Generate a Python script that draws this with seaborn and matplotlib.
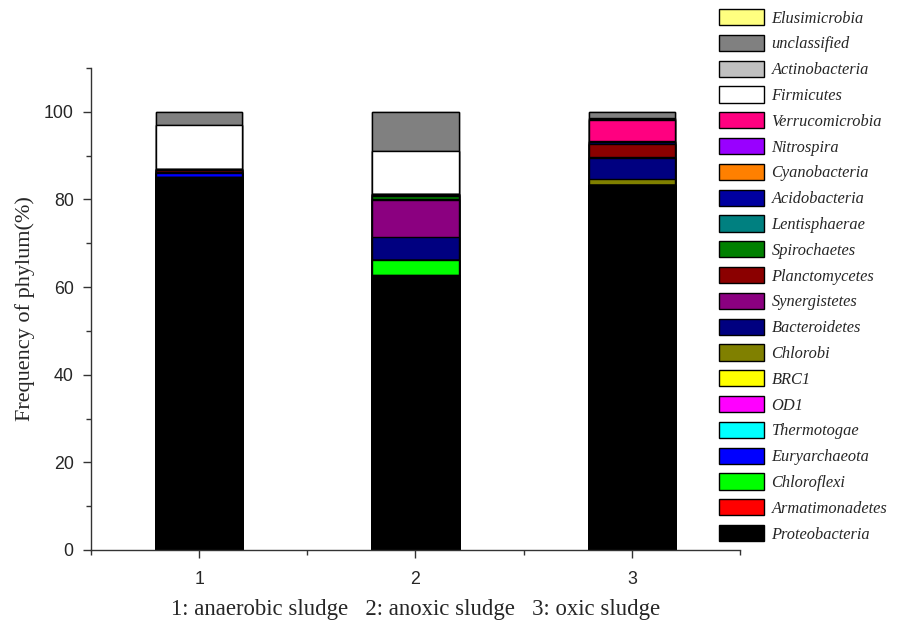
import numpy as np
import pandas as pd
import matplotlib
matplotlib.use("Agg")
import matplotlib.pyplot as plt
from matplotlib.patches import Patch
from matplotlib.ticker import FixedLocator
import seaborn as sns

# ---- data (percent) ----
samples = ["1", "2", "3"]
# legend order, top to bottom (stack order is the reverse)
phyla = ["Elusimicrobia", "unclassified", "Actinobacteria", "Firmicutes",
         "Verrucomicrobia", "Nitrospira", "Cyanobacteria", "Acidobacteria",
         "Lentisphaerae", "Spirochaetes", "Planctomycetes", "Synergistetes",
         "Bacteroidetes", "Chlorobi", "BRC1", "OD1", "Thermotogae",
         "Euryarchaeota", "Chloroflexi", "Armatimonadetes", "Proteobacteria"]
colors = ["#FFFF80", "#808080", "#C0C0C0", "#FFFFFF",
          "#FF0080", "#9900FF", "#FF8000", "#0000A0",
          "#008080", "#008000", "#8B0000", "#8B0080",
          "#000080", "#808000", "#FFFF00", "#FF00FF", "#00FFFF",
          "#0000FF", "#00FF00", "#FF0000", "#000000"]

Proteobacteria  = [85.2, 62.8, 83.4]
Armatimonadetes = [0.0, 0.0, 0.0]
Chloroflexi     = [0.0, 3.3, 0.0]
Euryarchaeota   = [0.8, 0.0, 0.0]
Thermotogae     = [0.0, 0.0, 0.0]
OD1             = [0.0, 0.0, 0.0]
BRC1            = [0.0, 0.0, 0.0]
Chlorobi        = [0.0, 0.0, 1.3]
Bacteroidetes   = [0.3, 5.3, 4.7]
Synergistetes   = [0.0, 8.5, 0.4]
Planctomycetes  = [0.4, 0.3, 2.9]
Spirochaetes    = [0.0, 0.5, 0.0]
Lentisphaerae   = [0.0, 0.3, 0.0]
Acidobacteria   = [0.2, 0.3, 0.3]
Cyanobacteria   = [0.0, 0.0, 0.0]
Nitrospira      = [0.0, 0.0, 0.3]
Verrucomicrobia = [0.0, 0.0, 4.8]
Firmicutes      = [10.2, 9.7, 0.3]
Actinobacteria  = [0.0, 0.0, 0.2]
unclassified    = [2.9, 9.0, 1.4]
Elusimicrobia   = [0.0, 0.0, 0.0]

values = {
    "Proteobacteria": Proteobacteria, "Armatimonadetes": Armatimonadetes,
    "Chloroflexi": Chloroflexi, "Euryarchaeota": Euryarchaeota,
    "Thermotogae": Thermotogae, "OD1": OD1, "BRC1": BRC1,
    "Chlorobi": Chlorobi, "Bacteroidetes": Bacteroidetes,
    "Synergistetes": Synergistetes, "Planctomycetes": Planctomycetes,
    "Spirochaetes": Spirochaetes, "Lentisphaerae": Lentisphaerae,
    "Acidobacteria": Acidobacteria, "Cyanobacteria": Cyanobacteria,
    "Nitrospira": Nitrospira, "Verrucomicrobia": Verrucomicrobia,
    "Firmicutes": Firmicutes, "Actinobacteria": Actinobacteria,
    "unclassified": unclassified, "Elusimicrobia": Elusimicrobia,
}

df = pd.DataFrame(values, index=samples)[phyla[::-1]]  # bottom -> top
cum = df.cumsum(axis=1)

sns.set_theme(style="ticks")
plt.rcParams["font.family"] = ["Liberation Sans", "DejaVu Sans"]

fig = plt.figure(figsize=(9.01, 6.25), dpi=100)
ax = fig.add_axes([91/901, 1-550/625, (740-91)/901, (550-68)/625])

# draw cumulative bars from top layer to bottom layer
for name in phyla:
    col = colors[phyla.index(name)]
    d = pd.DataFrame({"sample": samples, "h": cum[name].values})
    sns.barplot(data=d, x="sample", y="h", color=col, saturation=1,
                width=0.4, edgecolor="black", linewidth=1.0, ax=ax,
                errorbar=None)

ax.set_xlim(-0.5, 2.5)
ax.set_ylim(0, 110)
ax.yaxis.set_major_locator(FixedLocator([0, 20, 40, 60, 80, 100]))
ax.yaxis.set_minor_locator(FixedLocator([10, 30, 50, 70, 90, 110]))
ax.xaxis.set_minor_locator(FixedLocator([-0.5, 0.5, 1.5, 2.5]))
ax.tick_params(axis="both", which="major", direction="out", length=6,
               width=1.0, labelsize=12.8, color="#333333", pad=6.5)
ax.tick_params(axis="x", which="major", pad=9)
ax.tick_params(axis="both", which="minor", direction="out", length=3.5,
               width=1.0, color="#333333")
for s in ["top", "right"]:
    ax.spines[s].set_visible(False)
for s in ["left", "bottom"]:
    ax.spines[s].set_linewidth(1.0)
    ax.spines[s].set_color("#333333")

ax.set_ylabel("Frequency of phylum(%)", family="Liberation Serif",
              fontsize=16, labelpad=6)
ax.set_xlabel("1: anaerobic sludge   2: anoxic sludge   3: oxic sludge",
              family="Liberation Serif", fontsize=16.4, labelpad=8)

handles = [Patch(facecolor=c, edgecolor="black", linewidth=1.0)
           for c in colors]
leg = fig.legend(handles, phyla, loc="upper left",
                 bbox_to_anchor=(719/901, 1-9/625), frameon=False,
                 prop={"family": "Liberation Serif", "style": "italic",
                       "size": 11.8},
                 handlelength=2.75, handleheight=1.15, handletextpad=0.45,
                 labelspacing=0.495, borderpad=0, borderaxespad=0)

fig.savefig("out.png", dpi=100)
